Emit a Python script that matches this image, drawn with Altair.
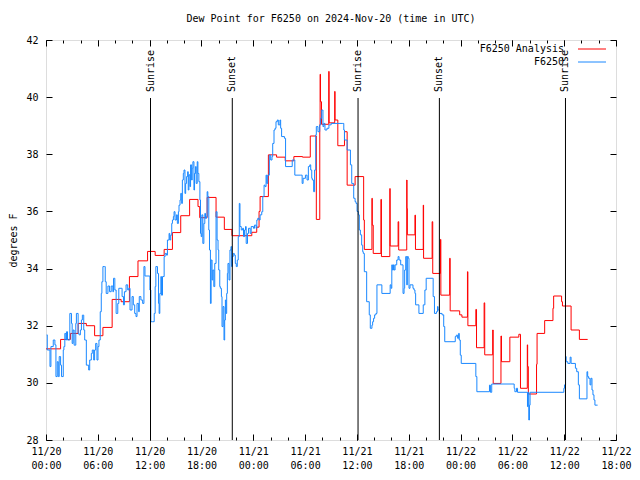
import altair as alt
import pandas as pd

# ---------------- data (hours since 2024-11-20 00:00 UTC) ----------------
red_hours = [0.0, 1.69, 2.83, 3.72, 4.67, 5.63, 6.59, 7.66, 8.7, 9.66, 10.65, 11.76,
             12.64, 13.68, 14.64, 15.6, 16.63, 17.6, 17.8, 18.66, 19.69, 20.65, 21.53,
             23.83, 24.4, 24.67, 24.79, 25.75, 26.7, 27.7, 28.7, 29.7, 30.6, 31.3, 31.7,
             31.74, 31.78, 31.9, 32.74, 32.78, 33.43, 33.47, 33.79, 34.56, 34.87, 35.79,
             36.78, 36.86, 37.74, 37.78, 37.89, 38.78, 38.84, 39.81, 39.85, 40.77, 40.84,
             41.77, 41.8, 41.84, 42.72, 42.78, 43.68, 43.72, 44.71, 44.78, 45.67, 45.72,
             46.74, 46.8, 47.9, 48.16, 48.8, 48.85, 49.77, 49.85, 50.73, 50.8, 51.72,
             51.78, 52.68, 52.74, 53.71, 54.75, 54.94, 55.73, 55.77, 55.85, 56.8, 56.86,
             57.74, 58.7, 58.78, 59.7, 59.8, 60.8, 61.76, 62.72]
red_vals = [31.19, 31.52, 31.73, 32.08, 32.0, 31.65, 31.94, 32.92, 32.84, 33.72, 34.27, 34.6,
            34.46, 34.67, 35.26, 35.85, 36.42, 36.17, 35.78, 36.49, 35.8, 35.37, 35.15,
            35.27, 35.45, 36.0, 36.52, 37.98, 37.9, 37.77, 37.92, 37.9, 38.64, 35.72, 39.03,
            40.8, 39.84, 39.05, 40.9, 39.1, 40.2, 39.2, 38.3, 38.79, 36.92, 37.22,
            35.7, 34.67, 36.46, 35.52, 34.53, 36.42, 34.42, 36.8, 34.79, 35.64, 34.65,
            37.1, 36.1, 35.18, 35.87, 34.67, 36.22, 34.36, 35.64, 33.83, 35.02, 33.07,
            34.36, 32.52, 32.38, 32.3, 33.89, 32.0, 32.57, 31.23, 32.8, 30.98, 31.85,
            29.98, 31.64, 30.74, 31.6, 31.7, 29.81, 31.33, 30.57, 29.61, 30.65, 31.73,
            32.18, 32.61, 33.04, 32.84, 32.69, 31.85, 31.52, 31.52]

blue_hours = [0.08, 0.15, 0.46, 0.57, 0.84, 1.03, 1.15, 1.30, 1.42, 1.53, 1.69, 1.80, 2.00,
              2.07, 2.18, 2.30, 2.38, 2.49, 2.76, 2.95, 3.03, 3.14, 3.26, 3.45, 3.52, 3.72,
              3.83, 3.98, 4.10, 4.21, 4.37, 4.48, 4.67, 4.94, 5.06, 5.25, 5.36, 5.52, 5.63,
              5.75, 5.90, 6.02, 6.13, 6.28, 6.40, 6.47, 6.59, 6.78, 6.86, 6.97, 7.17, 7.36,
              7.55, 7.74, 7.82, 7.97, 8.12, 8.31, 8.43, 8.70, 8.81, 8.97, 9.08, 9.27, 9.46,
              9.58, 9.73, 9.96, 10.11, 10.27, 10.42, 10.54, 10.73, 10.80, 10.99, 11.19,
              11.34, 11.46, 11.95, 12.03, 12.14, 12.34, 12.53, 12.64, 12.72, 12.91, 13.03,
              13.10, 13.18, 13.30, 13.37, 13.49, 13.68, 13.79, 13.95, 14.06, 14.25, 14.33,
              14.44, 14.56, 14.64, 14.75, 14.83, 14.94, 15.10, 15.21, 15.33, 15.40, 15.52,
              15.60, 15.71, 15.79, 15.90, 15.98, 16.09, 16.17, 16.28, 16.40, 16.47, 16.55,
              16.67, 16.74, 16.86, 16.93, 17.01, 17.13, 17.20, 17.32, 17.39, 17.51, 17.59,
              17.70, 17.82, 17.89, 17.97, 18.05, 18.16, 18.28, 18.39, 18.47, 18.58, 18.66,
              18.74, 18.85, 18.93, 19.04, 19.12, 19.23, 19.31, 19.43, 19.54, 19.69, 19.81,
              19.92, 20.00, 20.12, 20.19, 20.31, 20.38, 20.50, 20.61, 20.69, 20.77, 20.84,
              20.92, 21.00, 21.07, 21.19, 21.30, 21.42, 21.49, 21.57, 21.68, 21.80, 21.92,
              22.03, 22.15, 22.26, 22.38, 22.46, 22.61, 22.76, 22.87, 22.99, 23.10, 23.18,
              23.33, 23.45, 23.64, 23.76, 24.02, 24.14, 24.33, 24.41, 24.52, 24.67, 24.79,
              24.98, 25.10, 25.25, 25.36, 25.48, 25.56, 25.67, 25.86, 26.02, 26.17, 26.25,
              26.40, 26.52, 26.63, 26.78, 26.90, 27.09, 27.17, 27.28, 27.61, 27.74, 28.51,
              28.81, 29.50, 29.66, 29.77, 30.04, 30.23, 30.38, 30.54, 30.65, 30.77, 30.84,
              30.99, 31.10, 31.23, 31.30, 31.49, 31.69, 31.80, 31.92, 32.07, 32.18, 32.30,
              32.53, 32.76, 33.02, 34.37, 34.48, 34.56, 34.87, 35.25, 35.40, 35.63, 35.79,
              35.90, 36.02, 36.17, 36.28, 36.40, 36.55, 36.67, 36.74, 36.86, 37.13, 37.43,
              37.55, 37.74, 37.82, 37.93, 38.05, 38.20, 38.32, 38.89, 39.85, 39.96, 40.04,
              40.11, 40.23, 40.31, 40.42, 40.61, 40.77, 40.88, 41.07, 41.34, 41.46, 41.53,
              41.65, 41.77, 41.84, 41.95, 42.03, 42.15, 42.49, 42.61, 42.72, 42.80, 43.18,
              43.68, 43.87, 44.02, 44.71, 44.83, 44.98, 45.21, 45.33, 45.40, 45.56, 45.86,
              46.05, 46.17, 47.39, 47.51, 47.66, 47.78, 47.85, 47.97, 48.08, 49.77, 49.89,
              51.35, 51.46, 51.61, 54.21, 54.29, 54.48, 54.60, 55.75, 55.82, 55.90, 55.98,
              56.05, 59.96, 60.04, 60.16, 60.23, 60.42, 60.69, 60.80, 61.30, 61.45, 61.64,
              61.76, 62.64, 62.72, 62.83, 62.99, 63.10, 63.22, 63.33, 63.45, 63.56, 63.87]
blue_vals = [31.68, 31.15, 30.57, 31.27, 31.5, 31.33, 30.22, 30.74, 30.22, 30.92, 30.62, 30.22, 31.15,
             31.27, 31.73, 31.5, 31.79, 31.5, 32.43, 32.08, 31.38, 31.85, 31.32, 32.08, 32.43, 31.73,
             31.68, 31.85, 32.2, 32.37, 31.85, 31.5, 30.62, 30.45, 30.8, 31.03, 31.15, 30.8, 31.15,
             31.38, 30.8, 31.27, 31.5, 32.49, 33.13, 33.54, 34.07, 34.07, 33.54, 33.13, 33.39, 33.19,
             33.39, 33.19, 33.66, 33.25, 32.43, 32.78, 33.31, 33.31, 33.02, 32.73, 33.19, 33.43, 33.25,
             33.31, 32.55, 33.02, 32.73, 32.43, 32.32, 32.78, 32.49, 33.02, 32.9, 32.78,
             34.07, 33.74, 33.74, 33.25, 32.14, 32.14, 32.43, 33.37, 34.07, 33.83, 32.78,
             32.43, 33.13, 33.72, 33.07, 33.72, 34.42, 34.53, 34.47, 35.0, 35.23, 35.0,
             35.17, 35.58, 35.7, 35.82, 35.99, 35.7, 35.88, 35.58, 35.99, 36.22, 36.4,
             36.63, 36.28, 37.1, 37.33, 37.45, 36.63, 36.98, 37.22, 37.39, 36.75, 37.28,
             36.87, 37.63, 37.1, 37.51, 37.74, 36.75, 37.33, 37.57, 36.98, 37.74, 37.33,
             37.04, 36.4, 35.23, 35.12, 35.88, 34.88, 35.58, 35.93, 35.76, 35.82, 36.69,
             36.52, 35.35, 34.65, 32.78, 34.3, 33.6, 33.95, 33.37, 34.18, 35.99, 35.0,
             34.65, 33.95, 33.37, 33.31, 33.02, 31.97, 32.67, 31.5, 32.2, 32.9, 32.43,
             33.13, 33.83, 34.18, 33.6, 34.65, 34.77, 34.07, 34.42, 34.53, 34.47, 34.18,
             34.07, 34.3, 35.12, 36.28, 35.47, 35.35, 35.41, 35.12, 35.35, 35.47, 34.88,
             35.23, 35.41, 35.23, 35.47, 35.41, 35.52, 35.41, 35.7, 35.76, 35.7, 35.88,
             35.99, 36.52, 36.92, 36.87, 37.27, 36.98, 37.27, 37.97, 37.8, 37.92, 38.38,
             38.85, 38.91, 39.14, 39.2, 39.03, 39.2, 38.91, 38.62, 38.56, 37.57, 37.8,
             37.27, 37.27, 36.98, 37.16, 37.27, 37.1, 37.57, 37.63, 37.45, 37.16, 37.1,
             36.69, 37.45, 38.68, 38.97, 38.79, 39.03, 39.26, 39.55, 38.97, 39.08, 38.85,
             38.91, 39.03, 39.08, 39.08, 38.85, 38.5, 38.15, 37.63, 36.98, 36.46, 36.34,
             36.28, 36.0, 35.88, 35.35, 35.18, 34.82, 34.59, 34.53, 33.89, 32.84, 32.38,
             31.91, 32.02, 32.14, 32.26, 32.38, 32.43, 33.43, 33.13, 33.43, 33.31, 34.13,
             33.95, 34.13, 33.95, 34.13, 34.3, 34.42, 34.3, 34.13, 33.13, 33.31, 33.95,
             34.42, 33.43, 34.42, 34.36, 33.31, 33.43, 33.31, 33.25, 33.13, 32.73, 32.43,
             32.73, 33.25, 33.66, 33.66, 33.02, 32.43, 32.49, 32.67, 32.55, 32.43, 32.38,
             31.97, 31.44, 31.62, 31.67, 31.56, 31.73, 31.5, 30.97, 30.68, 30.22, 29.69,
             29.92, 29.67, 29.96, 29.81, 29.69, 29.81, 29.67, 29.17, 29.67, 28.7, 29.22,
             29.67, 29.81, 29.93, 30.92, 30.74, 30.68, 30.9, 30.68, 30.51, 30.39, 29.93,
             29.44, 30.39, 30.22, 30.16, 29.93, 30.16, 29.75, 29.58, 29.4, 29.22, 29.22]

sun_hours = [12.1, 21.57, 36.13, 45.55, 60.15]
sun_labels = ["Sunrise", "Sunset", "Sunrise", "Sunset", "Sunrise"]

series_names = ["F6250 Analysis", "F6250"]
series_colors = ["#ff0000", "#1a88ff"]

x_major = list(range(0, 67, 6))
x_minor = list(range(0, 67, 2))
y_ticks = list(range(28, 43, 2))

TITLE = "Dew Point for F6250 on 2024-Nov-20 (time in UTC)"
FONT = "DejaVu Sans Mono"
W, H = 570, 400

red_df = pd.DataFrame({"hour": red_hours, "dewpt": red_vals})
blue_df = pd.DataFrame({"hour": blue_hours, "dewpt": blue_vals})
sun_df = pd.DataFrame({"hour": sun_hours, "label": sun_labels})

xscale = alt.Scale(domain=[0, 66], nice=False, zero=False)
yscale = alt.Scale(domain=[28, 42], nice=False, zero=False)

label_expr = ("['11/' + (20 + floor(datum.value / 24)), "
              "(datum.value % 24 < 10 ? '0' : '') + (datum.value % 24) + ':00']")


def tick_axis(orient, values, size, offset):
    return alt.Axis(orient=orient, values=values, tickSize=size, offset=offset,
                    labels=False, domain=False, grid=False, title=None,
                    ticks=True, tickColor="black", tickWidth=1)


red = alt.Chart(red_df).mark_line(interpolate="step-after", color=series_colors[0],
                                  strokeWidth=1).encode(
    x=alt.X("hour:Q", scale=xscale,
            axis=alt.Axis(values=x_major, labelExpr=label_expr, ticks=False, domain=False,
                          grid=False, title=None, labelFont=FONT, labelFontSize=10,
                          labelColor="black", labelPadding=6, labelBaseline="top",
                          labelLineHeight=14, labelFlush=False, labelOverlap=False)),
    y=alt.Y("dewpt:Q", scale=yscale,
            axis=alt.Axis(values=y_ticks, ticks=False, domain=False, grid=False,
                          title="degrees F", labelFont=FONT, labelFontSize=10,
                          labelColor="black", labelPadding=8, titleFont=FONT,
                          titleFontSize=10, titleFontWeight="normal", titleColor="black",
                          titleX=-33, titleY=H / 2, titleAngle=270, titleAlign="center",
                          titleBaseline="middle")),
)

blue = alt.Chart(blue_df).mark_line(interpolate="step-after", color=series_colors[1],
                                    strokeWidth=1).encode(
    x=alt.X("hour:Q", scale=xscale, axis=tick_axis("top", x_major, 6, -H)),
    y=alt.Y("dewpt:Q", scale=yscale, axis=tick_axis("right", y_ticks, 6, -W)),
)

ticks_top = alt.Chart(red_df).mark_line(strokeOpacity=0).encode(
    x=alt.X("hour:Q", scale=xscale, axis=tick_axis("bottom", x_major, 6, -H)),
    y=alt.Y("dewpt:Q", scale=yscale, axis=tick_axis("left", y_ticks, 6, -W)),
)

minor_bottom = alt.Chart(red_df).mark_line(strokeOpacity=0).encode(
    x=alt.X("hour:Q", scale=xscale, axis=tick_axis("top", x_minor, 3, -H)),
    y=alt.Y("dewpt:Q", scale=yscale, axis=None),
)

minor_top = alt.Chart(red_df).mark_line(strokeOpacity=0).encode(
    x=alt.X("hour:Q", scale=xscale, axis=tick_axis("bottom", x_minor, 3, -H)),
    y=alt.Y("dewpt:Q", scale=yscale, axis=None),
)

sun_rules = alt.Chart(sun_df).mark_rule(color="black", strokeWidth=1).encode(
    x=alt.X("hour:Q", scale=xscale, axis=None),
    y=alt.value(58),
    y2=alt.value(H),
)

sun_text = alt.Chart(sun_df).mark_text(angle=270, align="left", baseline="middle",
                                       font=FONT, fontSize=10, color="black").encode(
    x=alt.X("hour:Q", scale=xscale, axis=None),
    y=alt.value(52),
    text="label:N",
)

legend_layers = []
for i, (name, col) in enumerate(zip(series_names, series_colors)):
    yy = 9 + 13 * i
    d = pd.DataFrame({"name": [name]})
    legend_layers.append(
        alt.Chart(d).mark_text(align="right", baseline="middle", font=FONT, fontSize=10,
                               color="black").encode(
            x=alt.value(W - 52), y=alt.value(yy), text="name:N"))
    legend_layers.append(
        alt.Chart(d).mark_rule(color=col, strokeWidth=1).encode(
            x=alt.value(W - 38), x2=alt.value(W - 10), y=alt.value(yy)))

chart = alt.layer(
    red, blue, ticks_top, minor_bottom, minor_top, sun_rules, sun_text, *legend_layers
).resolve_axis(
    x="independent", y="independent"
).properties(
    width=W,
    height=H,
    autosize=alt.AutoSizeParams(type="none"),
    padding={"left": 38, "top": 32, "right": 16, "bottom": 32},
    title=alt.Title(TITLE, font=FONT, fontSize=10, fontWeight="normal", color="black",
                    anchor="middle", frame="group", offset=11),
).configure_view(
    stroke="black", strokeWidth=1
).configure(
    background="white"
)

chart.save("out.html", embed_options={"renderer": "svg", "actions": False})
